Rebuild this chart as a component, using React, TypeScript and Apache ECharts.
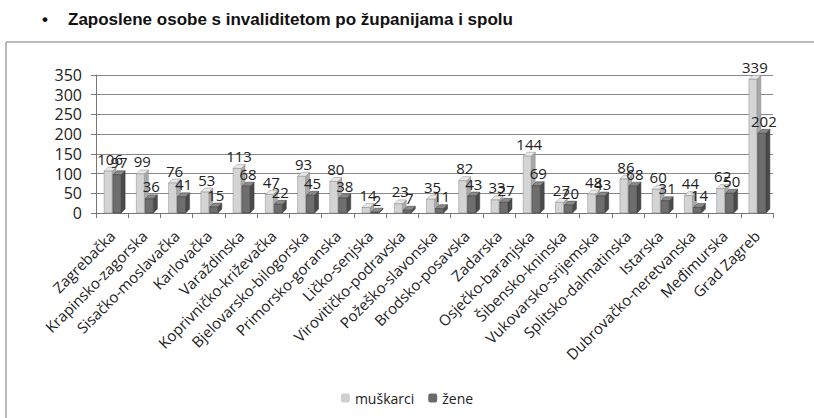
import React, { useEffect, useRef } from "react";
import * as echarts from "echarts";

const counties = [
  "Zagrebačka", "Krapinsko-zagorska", "Sisačko-moslavačka", "Karlovačka", "Varaždinska",
  "Koprivničko-križevačka", "Bjelovarsko-bilogorska", "Primorsko-goranska", "Ličko-senjska",
  "Virovitičko-podravska", "Požeško-slavonska", "Brodsko-posavska", "Zadarska", "Osječko-baranjska",
  "Šibensko-kninska", "Vukovarsko-srijemska", "Splitsko-dalmatinska", "Istarska",
  "Dubrovačko-neretvanska", "Međimurska", "Grad Zagreb",
];
const muskarci = [106, 99, 76, 53, 113, 47, 93, 80, 14, 23, 35, 82, 33, 144, 27, 48, 86, 60, 44, 62, 339];
const zene = [97, 36, 41, 15, 68, 22, 45, 38, 2, 7, 11, 43, 27, 69, 20, 43, 68, 31, 14, 50, 202];
const yTicks = [0, 50, 100, 150, 200, 250, 300, 350];

const FONT = "'Open Sans', sans-serif";

function make3D(offset: number, front: string, side: string, top: string, border: string) {
  return (params: any, api: any) => {
    const idx = api.value(0);
    const val = api.value(1);
    const p1 = api.coord([idx, val]);
    const p0 = api.coord([idx, 0]);
    const w = 8;
    const d = 4;
    const x = p1[0] + offset - w / 2;
    const yTop = p1[1];
    const yBot = p0[1];
    return {
      type: "group",
      children: [
        {
          type: "polygon",
          shape: { points: [[x + w, yTop], [x + w + d, yTop - d], [x + w + d, yBot - d], [x + w, yBot]] },
          style: { fill: side, stroke: border, lineWidth: 0.5 },
        },
        {
          type: "polygon",
          shape: { points: [[x, yTop], [x + d, yTop - d], [x + w + d, yTop - d], [x + w, yTop]] },
          style: { fill: top, stroke: border, lineWidth: 0.5 },
        },
        {
          type: "rect",
          shape: { x, y: yTop, width: w, height: yBot - yTop },
          style: { fill: front, stroke: border, lineWidth: 0.5 },
        },
        {
          type: "text",
          x: x + w / 2 + 2,
          y: yTop - 5,
          style: {
            text: String(val),
            fontSize: 15,
            fontFamily: FONT,
            fill: "#222",
            align: "center",
            verticalAlign: "bottom",
          },
        },
      ],
    };
  };
}

export default function App() {
  const ref = useRef<HTMLDivElement>(null);
  useEffect(() => {
    if (!ref.current) return;
    const chart = echarts.init(ref.current, null, { renderer: "svg" });
    chart.setOption({
      animation: false,
      backgroundColor: "#ffffff",
      graphic: [
        {
          type: "text",
          left: 42,
          top: 11,
          style: { text: "•", fontSize: 17, fontWeight: "bold", fontFamily: "'Liberation Sans', Arial", fill: "#111" },
        },
        {
          type: "text",
          left: 68,
          top: 11,
          style: {
            text: "Zaposlene osobe s invaliditetom po županijama i spolu",
            fontSize: 17,
            fontWeight: "bold",
            fontFamily: "'Liberation Sans', Arial",
            fill: "#111",
          },
        },
        {
          type: "rect",
          shape: { x: 6, y: 42, width: 830, height: 400 },
          style: { fill: "none", stroke: "#777", lineWidth: 1 },
          silent: true,
        },
      ],
      legend: {
        bottom: 8,
        left: "center",
        itemWidth: 9,
        itemHeight: 9,
        itemGap: 14,
        textStyle: { fontSize: 14, fontFamily: FONT, color: "#222" },
        data: [
          { name: "muškarci", itemStyle: { color: "#cfcfcf" } },
          { name: "žene", itemStyle: { color: "#6a6a6a" } },
        ],
      },
      grid: { left: 96, right: 41, top: 75, bottom: 205 },
      xAxis: {
        type: "category",
        data: counties,
        axisTick: { show: true, alignWithLabel: false, lineStyle: { color: "#777" } },
        axisLine: { lineStyle: { color: "#777" } },
        axisLabel: {
          interval: 0,
          rotate: 45,
          fontSize: 15,
          fontFamily: FONT,
          color: "#222",
          margin: 20,
        },
      },
      yAxis: {
        type: "value",
        min: 0,
        max: 350,
        interval: 50,
        axisLine: { show: true, lineStyle: { color: "#777" } },
        axisTick: { show: true, lineStyle: { color: "#777" } },
        splitLine: { lineStyle: { color: "#888", width: 1 } },
        axisLabel: {
          fontSize: 16,
          fontFamily: FONT,
          color: "#222",
          margin: 14,
          formatter: (v: number) => (yTicks.includes(v) ? String(v) : ""),
        },
      },
      series: [
        {
          name: "muškarci",
          type: "custom",
          itemStyle: { color: "#cfcfcf" },
          renderItem: make3D(-4, "#d4d4d4", "#a8a8a8", "#e8e8e8", "#8a8a8a"),
          data: muskarci.map((v, i) => [i, v]),
          encode: { x: 0, y: 1 },
          z: 3,
        },
        {
          name: "žene",
          type: "custom",
          itemStyle: { color: "#6a6a6a" },
          renderItem: make3D(5, "#6e6e6e", "#4a4a4a", "#8a8a8a", "#3a3a3a"),
          data: zene.map((v, i) => [i, v]),
          encode: { x: 0, y: 1 },
          z: 4,
        },
      ],
    });
    return () => chart.dispose();
  }, []);
  return (
    <div
      ref={ref}
      style={{ position: "absolute", left: 0, top: 0, width: 814, height: 418 }}
    />
  );
}
